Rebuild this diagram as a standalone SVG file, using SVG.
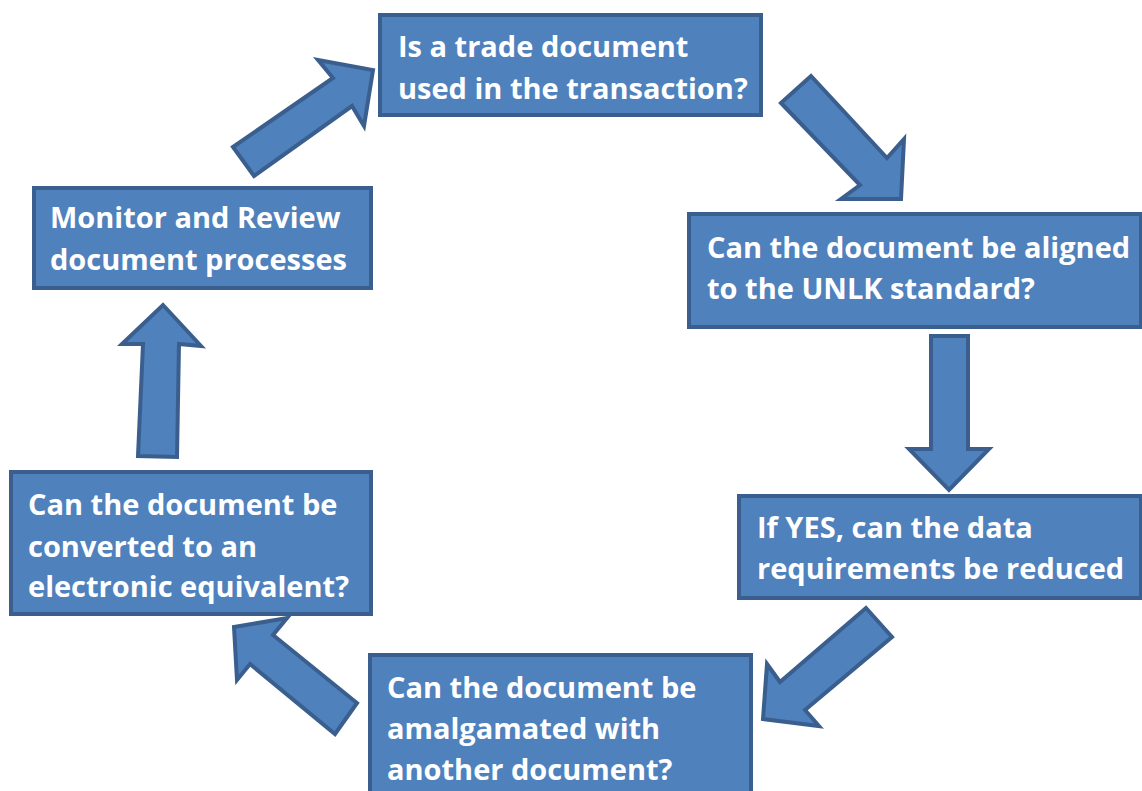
<svg xmlns="http://www.w3.org/2000/svg" width="1142" height="791" viewBox="0 0 1142 791">
<style>
.box{fill:#4F81BD;stroke:#3A5F8E;stroke-width:4}
.arr{fill:#4F81BD;stroke:#3A5F8E;stroke-width:4;stroke-linejoin:miter}
.t{font-family:"Open Sans",Lato,sans-serif;font-weight:bold;font-size:29px;fill:#ffffff}
</style>
<rect width="1142" height="791" fill="#ffffff"/>
<g id="connectors">
<polygon class="arr" points="233,147 333,78 318,60 373,70 364,126 352,106 254,176"/>
<polygon class="arr" points="781,103 811,76 887,158 904,139 901,199 841,199 860,185"/>
<polygon class="arr" points="931,336 968,336 968,449 989,449 949,490 909,449 931,449"/>
<polygon class="arr" points="866,608 892,637 805,710 819,726 763,719 767,664 780,682"/>
<polygon class="arr" points="234,627 287,618 273,635 357,703 335,734 250,664 237,680"/>
<polygon class="arr" points="163,305 201,346 179,344 177,457 138,456 143,344 122,344"/>
</g>
<g id="n1">
<rect class="box" x="380" y="15" width="381" height="100"/>
<text class="t" x="398" y="57">Is a trade document</text>
<text class="t" x="398" y="99">used in the transaction?</text>
</g>
<g id="n2">
<rect class="box" x="689" y="214" width="452" height="113"/>
<text class="t" x="707" y="258">Can the document be aligned</text>
<text class="t" x="707" y="299">to the UNLK standard?</text>
</g>
<g id="n3">
<rect class="box" x="739" y="496" width="402" height="102"/>
<text class="t" x="757" y="538">If YES, can the data</text>
<text class="t" x="757" y="579">requirements be reduced</text>
</g>
<g id="n4">
<rect class="box" x="370" y="655" width="381" height="150"/>
<text class="t" x="387" y="698">Can the document be</text>
<text class="t" x="387" y="739">amalgamated with</text>
<text class="t" x="387" y="780">another document?</text>
</g>
<g id="n5">
<rect class="box" x="11" y="472" width="360" height="142"/>
<text class="t" x="28" y="515">Can the document be</text>
<text class="t" x="28" y="557">converted to an</text>
<text class="t" x="28" y="597">electronic equivalent?</text>
</g>
<g id="n6">
<rect class="box" x="34" y="188" width="337" height="100"/>
<text class="t" x="50" y="228">Monitor and Review</text>
<text class="t" x="50" y="270">document processes</text>
</g>
</svg>
